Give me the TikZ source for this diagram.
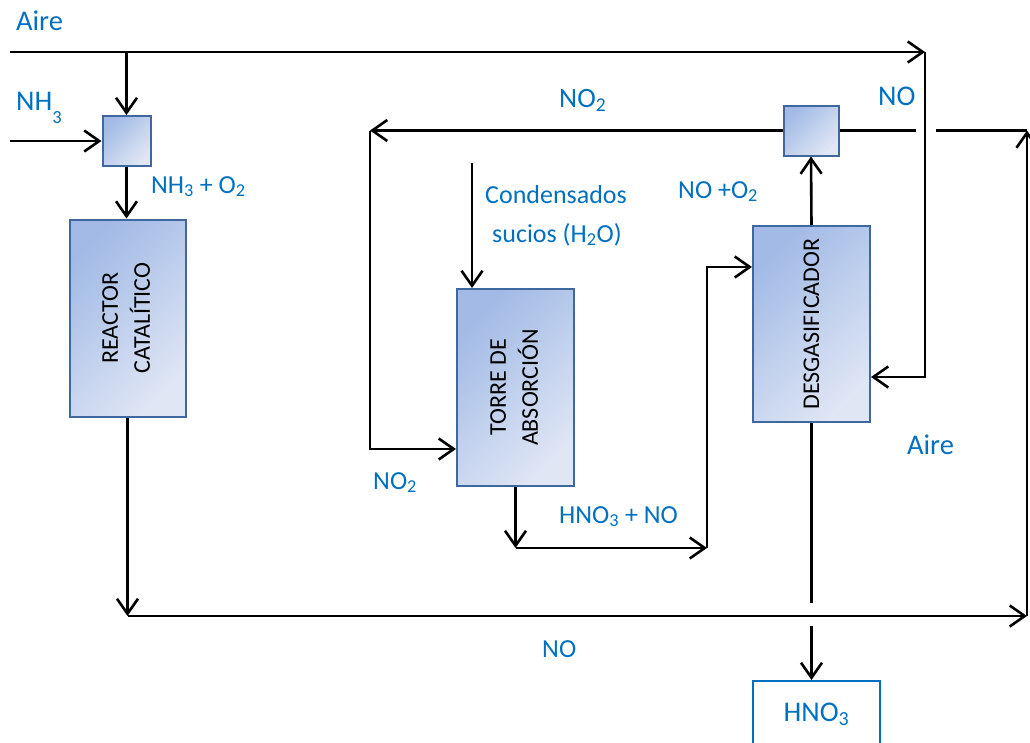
\documentclass[tikz,border=0pt]{standalone}
\usepackage{fontspec}
\setmainfont{Carlito}
\usetikzlibrary{arrows.meta}
\definecolor{lbl}{HTML}{0070C0}
\definecolor{boxdraw}{HTML}{41689E}
\definecolor{shadeA}{HTML}{A2BAE5}
\definecolor{shadeB}{HTML}{DFE6F4}
\newcommand{\sbs}[1]{\textsubscript{#1}}
\tikzset{
  unit/.style={draw=boxdraw, line width=2pt, top color=shadeA, bottom color=shadeB,
    shading angle=45, inner sep=0pt, font=\fontsize{24}{32}\selectfont},
  mixer/.style={unit, minimum width=#1, minimum height=50pt},
  stream/.style={text=lbl, font=\fontsize{26}{30}\selectfont, inner sep=0pt, anchor=base west},
  bigstream/.style={stream, font=\fontsize{28.5}{32}\selectfont},
  arr/.style={line width=2.6pt, -{Straight Barb[length=15pt,width=21pt,line width=2.6pt]}},
  ln/.style={line width=2.6pt}
}
\begin{document}
\begin{tikzpicture}[x=1pt,y=-1pt]
\useasboundingbox (0,0) rectangle (1030,742);

% process units
\node[mixer=48pt] (m1) at (126.5,141) {};
\node[mixer=55pt] (m2) at (811,130.5) {};
\node[unit, minimum width=116pt, minimum height=197pt] (reactor) at (127.5,318)
  {\rotatebox{90}{\begin{tabular}{@{}c@{}}REACTOR\\CATALÍTICO\end{tabular}}};
\node[unit, minimum width=117pt, minimum height=197pt] (torre) at (515.5,387.5)
  {\rotatebox{90}{\begin{tabular}{@{}c@{}}TORRE DE\\ABSORCIÓN\end{tabular}}};
\node[unit, minimum width=117pt, minimum height=196pt] (desgas) at (811.5,324)
  {\rotatebox{90}{DESGASIFICADOR}};
\node[draw=lbl, line width=1.6pt, minimum width=127pt, minimum height=100pt, text depth=38pt,
  text=lbl, font=\fontsize{28.5}{32}\selectfont, anchor=north] (hno3) at (816.5,680)
  {HNO\sbs{3}};

% free ends and corners of the streams
\coordinate (a0) at (10,52);
\coordinate (aT) at (925,52);
\coordinate (aB) at (925,377);
\coordinate (n0) at (10,141);
\coordinate (bL) at (127.5,616);
\coordinate (bR) at (1027,616);
\coordinate (tR) at (1027,130.5);
\coordinate (gapL) at (916,130.5);
\coordinate (gapR) at (936,130.5);
\coordinate (tL) at (370,130.5);
\coordinate (t2) at (370,449);
\coordinate (c0) at (472,163);
\coordinate (h0) at (515.5,548);
\coordinate (h1) at (707,548);
\coordinate (h2) at (707,267);
\coordinate (g1) at (811.5,603);
\coordinate (g2) at (811.5,626);

% air feed
\draw[arr] (a0) -- (aT);
\draw[arr] (aT) -- (aB) -- (aB -| desgas.east);
\draw[arr] (a0 -| m1) -- (m1.north);
% ammonia feed and reactor
\draw[arr] (n0) -- (m1.west);
\draw[arr] (m1.south) -- (m1.south |- reactor.north);
\draw[arr] (reactor.south) -- (bL);
\draw[arr] (bL) -- (bR);
\draw[arr] (bR) -- (tR);
\draw[ln] (tR) -- (gapR);
\draw[ln] (m2.east) -- (gapL);
% NO2 recycle to the absorber
\draw[arr] (m2.west) -- (tL);
\draw[arr] (tL) -- (t2) -- (t2 -| torre.west);
\draw[arr] (c0) -- (c0 |- torre.north);
% absorber product to the stripper
\draw[arr] (torre.south) -- (h0);
\draw[arr] (h0) -- (h1);
\draw[arr] (h1) -- (h2) -- (h2 -| desgas.west);
\draw[arr] (desgas.north) -- (m2.south);
\draw[ln] (desgas.south) -- (g1);
\draw[arr] (g2) -- (g2 |- hno3.north);

% stream labels
\node[bigstream] (lAire) at (16,30) {Aire};
\node[bigstream] (lNH3) at (16,110) {NH\raisebox{-13pt}{\fontsize{18.5}{20}\selectfont 3}};
\node[stream] (lMix) at (151,193) {NH\sbs{3} + O\sbs{2}};
\node[stream, font=\fontsize{28}{32}\selectfont] (lNO2a) at (559,107) {NO\sbs{2}};
\node[bigstream] (lNOa) at (878,105) {NO};
\node[stream] (lNOO2) at (678,198) {NO +O\sbs{2}};
\node[stream] (lCond) at (485,203) {Condensados};
\node[stream] (lSuc) at (492,242) {sucios (H\sbs{2}O)};
\node[stream] (lNO2b) at (373,489) {NO\sbs{2}};
\node[stream] (lHNO) at (559,523) {HNO\sbs{3} + NO};
\node[bigstream] (lAire2) at (907,454) {Aire};
\node[stream] (lNOb) at (542,657) {NO};
\end{tikzpicture}
\end{document}
